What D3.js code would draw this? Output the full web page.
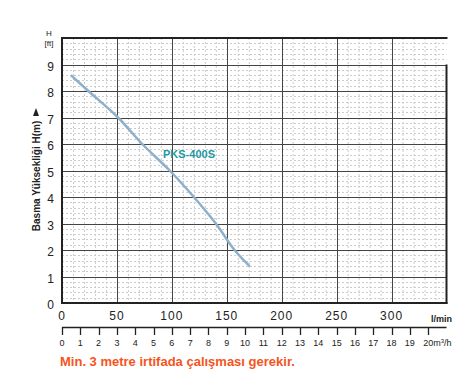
<!DOCTYPE html>
<html><head><meta charset="utf-8">
<script src="https://cdn.jsdelivr.net/npm/d3@7/dist/d3.min.js"></script>
<style>body{margin:0;background:#fff}svg{display:block}text{font-family:"Liberation Sans",Arial,sans-serif}</style>
</head><body>
<script>
const flowLmin = [8, 24, 51, 73, 98, 120, 140, 157, 171];
const headM = [8.6, 8.0, 7.0, 6.0, 5.0, 4.0, 3.0, 2.0, 1.38];
const seriesName = "PKS-400S";
const yTicks = [0,1,2,3,4,5,6,7,8,9];
const xTicks = [0,50,100,150,200,250,300];
const m3hTicks = d3.range(0,21);
const yTitle = "Basma Yüksekliği H(m)";
const note = "Min. 3 metre irtifada çalışması gerekir.";

const W=476,H=384;
const svg=d3.select("body").append("svg").attr("width",W).attr("height",H);
const x=d3.scaleLinear().domain([0,350]).range([62,446.5]);
const y=d3.scaleLinear().domain([0,10]).range([303,38]);

// minor grid
const g=svg.append("g");
g.selectAll(".mv").data(d3.range(10,350,10).filter(v=>v%50)).join("line")
 .attr("x1",d=>x(d)+0.5).attr("x2",d=>x(d)+0.5).attr("y1",y(10)).attr("y2",y(0))
 .attr("stroke","#cccccc").attr("stroke-dasharray","2,2");
g.selectAll(".mh").data(d3.range(0.2,10,0.2).filter(v=>Math.abs(v-Math.round(v))>0.01)).join("line")
 .attr("y1",d=>Math.round(y(d))+0.5).attr("y2",d=>Math.round(y(d))+0.5).attr("x1",x(0)).attr("x2",x(350))
 .attr("stroke","#cccccc").attr("stroke-dasharray","2,2");
// major grid
g.selectAll(".Mv").data(xTicks.slice(1)).join("line")
 .attr("x1",d=>Math.round(x(d))+0.5).attr("x2",d=>Math.round(x(d))+0.5).attr("y1",y(10)).attr("y2",y(0))
 .attr("stroke","#444");
g.selectAll(".Mh").data(yTicks.slice(1)).join("line")
 .attr("y1",d=>Math.round(y(d))+0.5).attr("y2",d=>Math.round(y(d))+0.5).attr("x1",x(0)).attr("x2",x(350))
 .attr("stroke","#444");
// borders
svg.append("line").attr("x1",x(0)).attr("x2",x(350)+1).attr("y1",y(10)).attr("y2",y(10)).attr("stroke","#222").attr("stroke-width",2);
svg.append("line").attr("x1",x(0)).attr("x2",x(350)+1).attr("y1",y(0)).attr("y2",y(0)).attr("stroke","#222").attr("stroke-width",2);
svg.append("line").attr("x1",x(0)).attr("x2",x(0)).attr("y1",y(10)-1).attr("y2",y(0)+1).attr("stroke","#222").attr("stroke-width",2);
svg.append("line").attr("x1",x(350)).attr("x2",x(350)).attr("y1",y(9)).attr("y2",y(0)+1).attr("stroke","#222").attr("stroke-width",2);

// y labels
svg.selectAll(".yl").data(yTicks).join("text").attr("x",54).attr("y",d=>y(d)+6)
 .attr("text-anchor","end").attr("font-size",12).attr("fill","#222").text(d=>d);
svg.append("text").attr("x",49).attr("y",36).attr("text-anchor","middle").attr("font-size",8).attr("fill","#222").text("H");
svg.append("text").attr("x",49).attr("y",45.5).attr("text-anchor","middle").attr("font-size",8).attr("fill","#222").text("[ft]");
// y title
svg.append("text").attr("transform","translate(40,176) rotate(-90)").attr("text-anchor","middle")
 .attr("font-size",10).attr("font-weight","bold").attr("fill","#222").text(yTitle);
svg.append("path").attr("d","M36,108 L39,116 L33,116 Z").attr("fill","#222");

// x labels
svg.selectAll(".xl").data(xTicks).join("text").attr("x",d=>x(d)).attr("y",320)
 .attr("text-anchor","middle").attr("font-size",12).attr("letter-spacing","1px").attr("fill","#222").text(d=>d);
svg.append("text").attr("x",431).attr("y",322).attr("font-size",9).attr("font-weight","bold").attr("fill","#222").text("l/min");

// m3/h axis
const xm=d3.scaleLinear().domain([0,20]).range([x(0),x(20*1000/60)]);
svg.append("line").attr("x1",x(0)).attr("x2",x(350)).attr("y1",327.5).attr("y2",327.5).attr("stroke","#222").attr("stroke-width",1.5);
svg.selectAll(".mt").data(m3hTicks).join("line").attr("x1",d=>Math.round(xm(d))+0.5).attr("x2",d=>Math.round(xm(d))+0.5)
 .attr("y1",327).attr("y2",335).attr("stroke","#222").attr("stroke-width",1.3);
svg.selectAll(".ml").data(m3hTicks.slice(0,20)).join("text").attr("x",d=>xm(d)).attr("y",346)
 .attr("text-anchor","middle").attr("font-size",9).attr("fill","#222").text(d=>d);
const t20=svg.append("text").attr("x",xm(20)-5).attr("y",346).attr("font-size",9).attr("fill","#222");
t20.append("tspan").text("20m");
t20.append("tspan").attr("font-size",6).attr("dy",-3).text("3");
t20.append("tspan").attr("dy",3).text("/h");

// curve
const pts=flowLmin.map((f,i)=>[f,headM[i]]);
svg.append("path").datum(pts).attr("fill","none").attr("stroke","#8eb0cb").attr("stroke-width",2.5)
 .attr("d",d3.line().x(d=>x(d[0])).y(d=>y(d[1])).curve(d3.curveCatmullRom.alpha(0.5)));
svg.append("text").attr("x",163).attr("y",158).attr("font-size",11).attr("font-weight","bold").attr("fill","#1f97a4").text(seriesName);

// note
svg.append("text").attr("x",60).attr("y",366).attr("font-size",13).attr("font-weight","bold").attr("fill","#f5541c").text(note);
</script>
</body></html>
